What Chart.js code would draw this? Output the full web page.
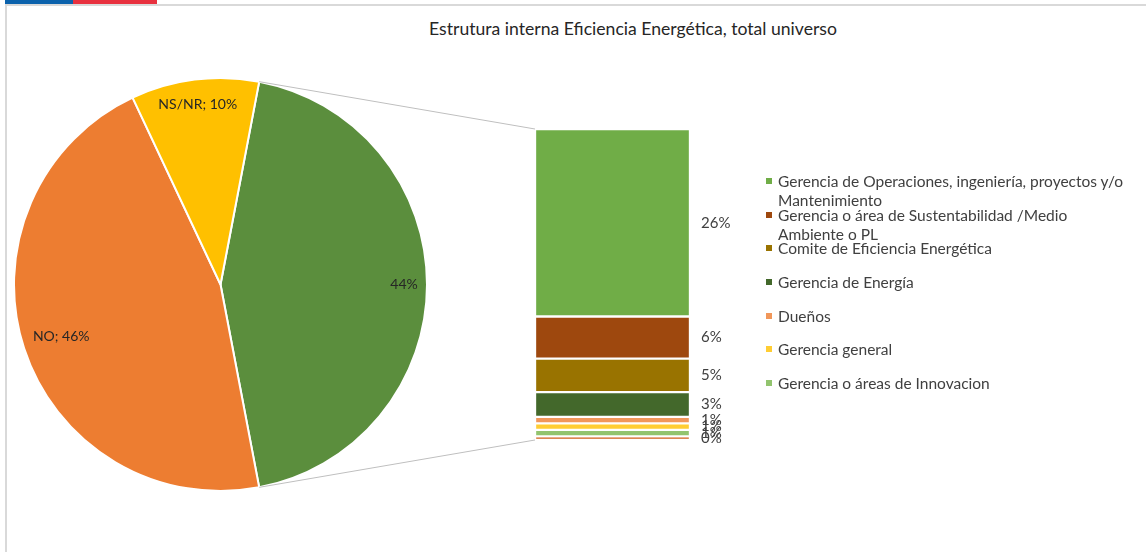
<!DOCTYPE html>
<html>
<head>
<meta charset="utf-8">
<script src="https://cdn.jsdelivr.net/npm/chart.js@4.4.1/dist/chart.umd.min.js"></script>
<style>
  body { margin: 0; background: #fff; font-family: Lato, 'Open Sans', sans-serif; }
  #page { position: relative; width: 1146px; height: 552px; overflow: hidden; }
  .strip { position: absolute; top: 0; height: 4px; }
  #frame { position: absolute; left: 5px; top: 4px; right: -10px; bottom: -10px;
           border-left: 2px solid #d9d9d9; border-top: 2px solid #d9d9d9; }
  #title { position: absolute; left: 120px; width: 1026px; top: 18px; text-align: center;
           font-size: 17.6px; color: #262626; }
  #pie { position: absolute; left: 13px; top: 77px; }
  #bar { position: absolute; left: 240px; top: 60px; }
  #legend { position: absolute; left: 762px; top: 172px; }
  .item { position: relative; height: 33.7px; font-size: 15.5px; line-height: 19px; color: #404040; }
  .item span.box { position: absolute; left: 4px; top: 6px; width: 6px; height: 6px; }
  .item span.txt { position: absolute; left: 16px; top: 0; width: 358px; }
</style>
</head>
<body>
<div id="page">
  <div class="strip" style="left:5px;width:68px;background:#0b62ac"></div>
  <div class="strip" style="left:73px;width:84px;background:#e8313f"></div>
  <div id="frame"></div>
  <div id="title">Estrutura interna Eficiencia Energética, total universo</div>
  <canvas id="pie" width="415" height="415"></canvas>
  <canvas id="bar" width="540" height="450"></canvas>
  <div id="legend"></div>
</div>
<script>
// pie principal (el primer sector se desglosa en la barra)
const pieCategories = ['SI', 'NO', 'NS/NR'];
const pieValues = [44, 46, 10];
const pieColors = ['#5b8e3d', '#ed7d31', '#ffc000'];

// barra de desglose, de arriba hacia abajo
const barCategories = [
  'Gerencia de Operaciones, ingeniería, proyectos y/o Mantenimiento',
  'Gerencia o área de Sustentabilidad /Medio Ambiente o PL',
  'Comite de Eficiencia Energética',
  'Gerencia de Energía',
  'Dueños',
  'Gerencia general',
  'Gerencia o áreas de Innovacion',
  ''
];
const barValues = [25.8, 5.8, 4.6, 3.4, 0.9, 0.9, 0.9, 0.49];
const barColors = ['#70ad47', '#9e480e', '#997300', '#43682b', '#f1975a', '#ffcd33', '#92c46e', '#d1601a'];

const FAMILY = 'Lato, "Open Sans", sans-serif';
const pieTotal = pieValues.reduce((a, b) => a + b, 0);
const barTotal = barValues.reduce((a, b) => a + b, 0);

// etiquetas dentro del pie, pegadas al borde
const pieLabels = {
  id: 'pieLabels',
  afterDatasetsDraw(chart) {
    const ctx = chart.ctx;
    const meta = chart.getDatasetMeta(0);
    ctx.save();
    ctx.font = '14px ' + FAMILY;
    ctx.fillStyle = '#262626';
    ctx.textAlign = 'center';
    ctx.textBaseline = 'middle';
    meta.data.forEach((arc, i) => {
      const text = (i === 0 ? '' : pieCategories[i] + '; ') + pieValues[i] + '%';
      const w = ctx.measureText(text).width / 2, h = 7;
      const mid = (arc.startAngle + arc.endAngle) / 2;
      const ux = Math.cos(mid), uy = Math.sin(mid);
      const far = d => Math.max(...[[-w, -h], [w, -h], [-w, h], [w, h]]
        .map(([a, b]) => Math.hypot(d * ux + a, d * uy + b)));
      let d = arc.outerRadius;
      while (d > 0 && far(d) > arc.outerRadius - 9) d -= 1;
      ctx.fillText(text, arc.x + d * ux, arc.y + d * uy);
    });
    ctx.restore();
  }
};

const pieCanvas = document.getElementById('pie');
const pieChart = new Chart(pieCanvas.getContext('2d'), {
  type: 'pie',
  data: {
    labels: pieCategories,
    datasets: [{
      data: pieValues,
      backgroundColor: pieColors,
      borderColor: '#ffffff',
      borderWidth: 2
    }]
  },
  options: {
    responsive: false,
    animation: false,
    rotation: 90 - pieValues[0] / pieTotal * 180,
    plugins: { legend: { display: false }, tooltip: { enabled: false } }
  },
  plugins: [pieLabels]
});

// lineas que unen el pie con la barra
const connectors = {
  id: 'connectors',
  beforeDatasetsDraw(chart) {
    const ctx = chart.ctx;
    const pr = pieCanvas.getBoundingClientRect();
    const br = chart.canvas.getBoundingClientRect();
    const dx = pr.left - br.left, dy = pr.top - br.top;
    const arc = pieChart.getDatasetMeta(0).data[0];
    const r = arc.outerRadius;
    const first = chart.getDatasetMeta(0).data[0];
    const last = chart.getDatasetMeta(barValues.length - 1).data[0];
    ctx.save();
    ctx.strokeStyle = '#bfbfbf';
    ctx.lineWidth = 1;
    ctx.beginPath();
    ctx.moveTo(arc.x + dx + r * Math.cos(arc.startAngle), arc.y + dy + r * Math.sin(arc.startAngle));
    ctx.lineTo(first.x - first.width / 2, Math.min(first.y, first.base));
    ctx.moveTo(arc.x + dx + r * Math.cos(arc.endAngle), arc.y + dy + r * Math.sin(arc.endAngle));
    ctx.lineTo(last.x - last.width / 2, Math.max(last.y, last.base));
    ctx.stroke();
    ctx.restore();
  }
};

const barLabels = {
  id: 'barLabels',
  afterDatasetsDraw(chart) {
    const ctx = chart.ctx;
    ctx.save();
    ctx.font = '15px ' + FAMILY;
    ctx.fillStyle = '#404040';
    ctx.textAlign = 'left';
    ctx.textBaseline = 'middle';
    barValues.forEach((v, i) => {
      const bar = chart.getDatasetMeta(i).data[0];
      ctx.fillText(Math.round(v) + '%', bar.x + bar.width / 2 + 11, (bar.y + bar.base) / 2);
    });
    ctx.restore();
  }
};

const barChart = new Chart(document.getElementById('bar').getContext('2d'), {
  type: 'bar',
  data: {
    labels: [''],
    datasets: barValues.map((v, i) => ({
      label: barCategories[i],
      data: [v],
      backgroundColor: barColors[i],
      borderColor: '#ffffff',
      borderWidth: 1.5,
      borderSkipped: false,
      barPercentage: 1,
      categoryPercentage: 1
    }))
  },
  options: {
    responsive: false,
    animation: false,
    layout: { padding: { left: 295, right: 90, top: 69, bottom: 70 } },
    scales: {
      x: { display: false, stacked: true },
      y: { display: false, stacked: true, reverse: true, min: 0, max: barTotal }
    },
    plugins: { legend: { display: false }, tooltip: { enabled: false } }
  },
  plugins: [connectors, barLabels]
});

// leyenda
const legend = document.getElementById('legend');
barCategories.forEach((name, i) => {
  if (!name) return;
  const item = document.createElement('div');
  item.className = 'item';
  item.innerHTML = '<span class="box" style="background:' + barColors[i] + '"></span><span class="txt"></span>';
  item.querySelector('.txt').textContent = name;
  legend.appendChild(item);
});
</script>
</body>
</html>
